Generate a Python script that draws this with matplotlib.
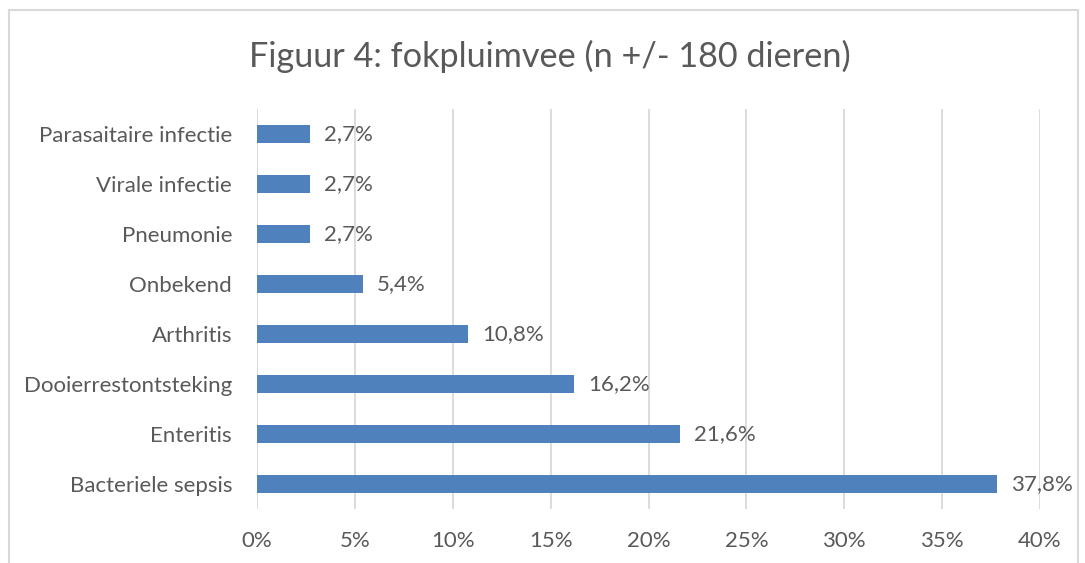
import matplotlib.pyplot as plt
from matplotlib.lines import Line2D

# Data (percentages)
categories = ['Bacteriele sepsis', 'Enteritis', 'Dooierrestontsteking', 'Arthritis',
              'Onbekend', 'Pneumonie', 'Virale infectie', 'Parasaitaire infectie']
values = [37.8, 21.6, 16.2, 10.8, 5.4, 2.7, 2.7, 2.7]
xticks = [0, 5, 10, 15, 20, 25, 30, 35, 40]

text_color = '#595959'
bar_color = '#4F81BD'
grid_color = '#D9D9D9'

plt.rcParams['font.family'] = ['Lato', 'DejaVu Sans']

fig = plt.figure(figsize=(10.85, 5.63), dpi=100)
ax = fig.add_axes([257 / 1085, 1 - 509 / 563, (1040 - 257) / 1085, 400 / 563])

# Bars
ypos = range(len(categories))
ax.barh(ypos, values, height=0.36, color=bar_color, zorder=3)

# Value labels
for y, v in zip(ypos, values):
    ax.annotate(f'{v:.1f}%'.replace('.', ','), (v, y), xytext=(10, 0),
                textcoords='offset points', va='center', ha='left',
                fontsize=16, color=text_color)

# Axes styling
ax.set_xlim(0, 40)
ax.set_ylim(-0.5, len(categories) - 0.5)
ax.set_xticks(xticks)
ax.set_xticklabels([f'{t}%' for t in xticks], fontsize=16, color=text_color)
ax.set_yticks(list(ypos))
ax.set_yticklabels(categories, fontsize=16, color=text_color)
ax.tick_params(axis='both', length=0)
ax.tick_params(axis='x', pad=16)
ax.tick_params(axis='y', pad=18)
ax.grid(axis='x', color=grid_color, linewidth=1.3, zorder=0)
for s in ax.spines.values():
    s.set_visible(False)

# Title
fig.text(550 / 1085, 1 - 56 / 563, 'Figuur 4: fokpluimvee (n +/- 180 dieren)',
         ha='center', va='center', fontsize=24.7, color=text_color)

# Chart border (left, top, right)
bx0, bx1, by = 9 / 1085, 1078 / 1085, 1 - 10 / 563
for xs, ys in [([bx0, bx0], [0, by]), ([bx0, bx1], [by, by]), ([bx1, bx1], [by, 0])]:
    fig.add_artist(Line2D(xs, ys, color=grid_color, linewidth=1.5))

fig.savefig('out.png', dpi=100)
